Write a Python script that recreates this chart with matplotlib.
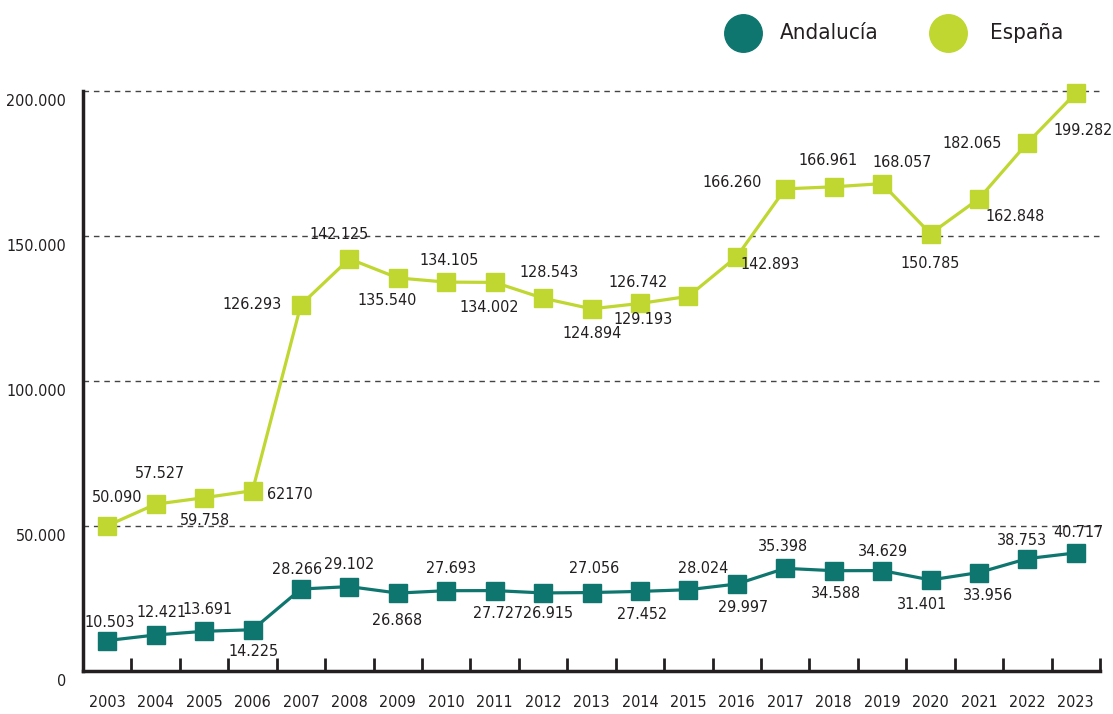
import matplotlib
matplotlib.use("Agg")
import matplotlib.pyplot as plt
from matplotlib.lines import Line2D
from matplotlib.transforms import ScaledTranslation

plt.rcParams['font.family'] = ['DejaVu Sans']
plt.rcParams['font.stretch'] = 'condensed'

# data
years = list(range(2003, 2024))
andalucia = [10503, 12421, 13691, 14225, 28266, 29102, 26868, 27693, 27727, 26915,
             27056, 27452, 28024, 29997, 35398, 34588, 34629, 31401, 33956, 38753, 40717]
espana = [50090, 57527, 59758, 62170, 126293, 142125, 135540, 134105, 134002, 128543,
          124894, 126742, 129193, 142893, 166260, 166961, 168057, 150785, 162848, 182065, 199282]
espana_labels = ["50.090", "57.527", "59.758", "62170", "126.293", "142.125", "135.540",
                 "134.105", "134.002", "128.543", "124.894", "126.742", "129.193", "142.893",
                 "166.260", "166.961", "168.057", "150.785", "162.848", "182.065", "199.282"]
y_ticks = [0, 50000, 100000, 150000, 200000]
y_ticklabels = ["0", "50.000", "100.000", "150.000", "200.000"]

# label placement (pixel offsets from each marker, +y is up)
and_offsets = [(2, 18), (6, 22), (3, 22), (1, -22), (-4, 20), (0, 22), (-1, -27), (5, 22),
               (3, -23), (5, -21), (3, 24), (2, -23), (15, 21), (6, -23), (-2, 22), (2, -23),
               (1, 19), (-8, -25), (9, -23), (-5, 18), (3, 20)]
esp_offsets = [(10, 28), (4, 31), (1, -23), (37, -4), (-49, 0), (-10, 24), (-11, -23), (3, 22),
               (-5, -25), (6, 26), (1, -25), (-2, 21), (-45, -23), (33, -8), (-53, 6), (-6, 26),
               (20, 21), (0, -30), (36, -18), (-55, 0), (7, -37)]

TEAL = "#0e766f"
LIME = "#bfd730"
DARK = "#231f20"


def fmt(v):
    return f"{v:,}".replace(",", ".")


fig = plt.figure(figsize=(11.13, 7.14), dpi=100)
ax = fig.add_axes([83 / 1113, 1 - 671 / 714, (1100 - 83) / 1113, (671 - 91) / 714])

for yv in y_ticks[1:]:
    ax.axhline(yv, color="#444444", lw=1.0, ls=(0, (4, 3.5)), zorder=1, clip_on=False)

ax.plot(years, andalucia, color=TEAL, lw=2.3, marker="s", ms=12.5, zorder=3, clip_on=False)
ax.plot(years, espana, color=LIME, lw=2.3, marker="s", ms=12.5, zorder=3, clip_on=False)

for x, v, (dx, dy) in zip(years, andalucia, and_offsets):
    ax.annotate(fmt(v), (x, v), xytext=(dx, dy), textcoords="offset pixels",
                ha="center", va="center", fontsize=11.5, color=DARK, zorder=4)
for x, v, lab, (dx, dy) in zip(years, espana, espana_labels, esp_offsets):
    ax.annotate(lab, (x, v), xytext=(dx, dy), textcoords="offset pixels",
                ha="center", va="center", fontsize=11.5, color=DARK, zorder=4)

ax.set_xlim(2002.5, 2023.5)
ax.set_ylim(0, 200000)

for side in ["top", "right"]:
    ax.spines[side].set_visible(False)
for side in ["left", "bottom"]:
    ax.spines[side].set_linewidth(2.5)
    ax.spines[side].set_color(DARK)

# year labels and tick marks between years
ax.set_xticks(years)
ax.set_xticklabels([str(y) for y in years], fontsize=11.5, color=DARK)
ax.tick_params(axis="x", which="major", length=0, pad=17)
ax.set_xticks([y + 0.5 for y in years], minor=True)
ax.tick_params(axis="x", which="minor", direction="in", length=9.5, width=2, color=DARK)

ax.set_yticks(y_ticks)
ax.set_yticklabels(y_ticklabels, fontsize=11.5, color=DARK)
ax.tick_params(axis="y", length=0, pad=12)
for lab in ax.get_yticklabels():
    lab.set_transform(lab.get_transform() + ScaledTranslation(0, -9 / 100, fig.dpi_scale_trans))

# legend
fig.add_artist(Line2D([743 / 1113], [1 - 33 / 714], marker="o", ms=27, color=TEAL,
                      transform=fig.transFigure))
fig.add_artist(Line2D([948 / 1113], [1 - 33 / 714], marker="o", ms=27, color=LIME,
                      transform=fig.transFigure))
fig.text(780 / 1113, 1 - 33 / 714, "Andalucía", fontsize=16, color=DARK, va="center", ha="left")
fig.text(990 / 1113, 1 - 33 / 714, "España", fontsize=16, color=DARK, va="center", ha="left")

fig.savefig("out.png", dpi=100)
